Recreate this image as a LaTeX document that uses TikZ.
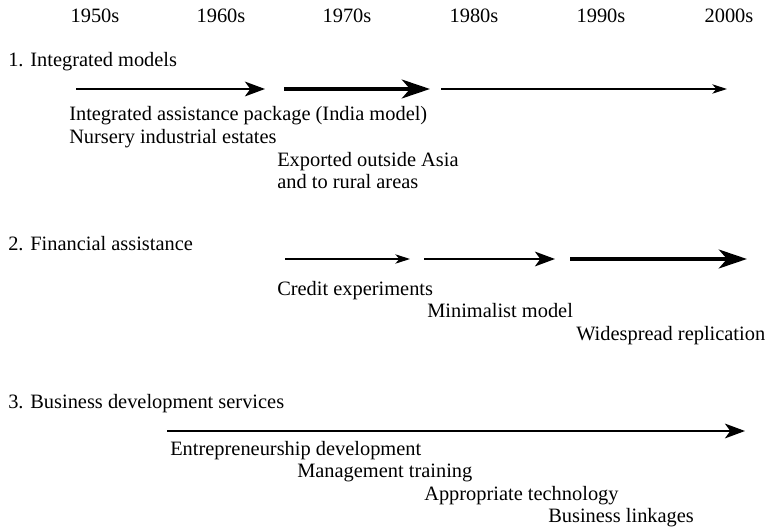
\documentclass[tikz,border=0pt]{standalone}
\usepackage{fontspec}
\setmainfont{Liberation Serif}
\usetikzlibrary{arrows.meta}

\begin{document}
\begin{tikzpicture}[x=0.75pt,y=-0.75pt,
    every node/.style={inner sep=0pt,anchor=base west,font=\fontsize{15.3}{18}\selectfont},
    year/.style={anchor=base},
    lighttrack/.style={line width=1pt,-{Stealth[length=11pt,width=7pt,inset=3pt]}},
    midtrack/.style={line width=1.9pt,-{Stealth[length=15pt,width=11pt,inset=4pt]}},
    heavytrack/.style={line width=3.4pt,-{Stealth[length=21pt,width=14pt,inset=6pt]}}]
    \useasboundingbox (0,0) rectangle (770,530);
    % decades
    \node[year] (y50) at (95,23) {1950s};
    \node[year] (y60) at (221,23) {1960s};
    \node[year] (y70) at (347,23) {1970s};
    \node[year] (y80) at (474,23) {1980s};
    \node[year] (y90) at (601,23) {1990s};
    \node[year] (y00) at (729,23) {2000s};

    % 1. integrated models
    \node (integ) at (8,67) {1. Integrated models};
    \coordinate (a1) at (76,89);  \coordinate (a2) at (265,89);
    \coordinate (a3) at (284,89); \coordinate (a4) at (430,89);
    \coordinate (a5) at (441,89); \coordinate (a6) at (727,89);
    \draw[midtrack] (a1) -- (a2);
    \draw[heavytrack] (a3) -- (a4);
    \draw[lighttrack] (a5) -- (a6);
    \node (india) at (69,121) {Integrated assistance package (India model)};
    \node (nursery) at (69,144) {Nursery industrial estates};
    \node (export) at (277,167) {Exported outside Asia};
    \node (rural) at (277,189) {and to rural areas};

    % 2. financial assistance
    \node (finance) at (8,251) {2. Financial assistance};
    \coordinate (b1) at (285,259); \coordinate (b2) at (410,259);
    \coordinate (b3) at (424,259); \coordinate (b4) at (555,259);
    \coordinate (b5) at (570,259); \coordinate (b6) at (747,259);
    \draw[lighttrack] (b1) -- (b2);
    \draw[midtrack] (b3) -- (b4);
    \draw[heavytrack] (b5) -- (b6);
    \node (credit) at (277,296) {Credit experiments};
    \node (minimal) at (427,318) {Minimalist model};
    \node (replic) at (576,341) {Widespread replication};

    % 3. business development services
    \node (bds) at (8,408) {3. Business development services};
    \coordinate (c1) at (167,431); \coordinate (c2) at (745,431);
    \draw[midtrack] (c1) -- (c2);
    \node (entre) at (170,455) {Entrepreneurship development};
    \node (manage) at (297,477) {Management training};
    \node (approp) at (424,500) {Appropriate technology};
    \node (linkage) at (548,522) {Business linkages};
\end{tikzpicture}
\end{document}
